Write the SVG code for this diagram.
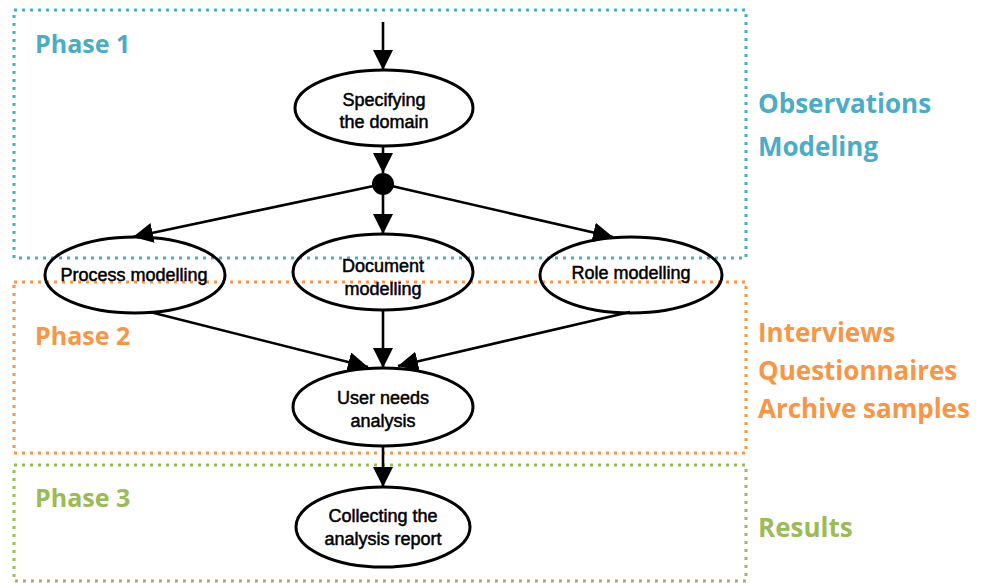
<svg xmlns="http://www.w3.org/2000/svg" width="987" height="583" viewBox="0 0 987 583">
  <style>
    .frame { fill: none; stroke-width: 3; stroke-dasharray: 3 5; }
    .blue { stroke: #4BACC6; }
    .orange { stroke: #F79646; }
    .green { stroke: #9BBB59; }
    .phase { font-family: "Open Sans", "Liberation Sans", sans-serif; font-weight: bold; font-size: 25px; }
    .side { font-size: 26px; }
    .tb { fill: #4BACC6; }
    .to { fill: #F79646; }
    .tg { fill: #9BBB59; }
    .node ellipse { fill: none; stroke: #000; stroke-width: 3; }
    .node text { font-family: "Liberation Sans", Arial, sans-serif; font-size: 18px; fill: #000; stroke: #000; stroke-width: 0.5; text-anchor: middle; }
    .edge { fill: none; stroke: #000; stroke-width: 2.6; marker-end: url(#head); }
  </style>
  <defs>
    <marker id="head" markerUnits="userSpaceOnUse" markerWidth="22" markerHeight="20" refX="20" refY="10" orient="auto">
      <path d="M0,0 L20,10 L0,20 Z" fill="#000"/>
    </marker>
  </defs>

  <rect width="987" height="583" fill="#fff"/>

  <!-- phase frames -->
  <g id="phase-frames">
    <rect class="frame blue" x="14" y="10" width="732" height="248"/>
    <rect class="frame orange" x="14" y="282" width="732" height="171"/>
    <rect class="frame green" x="14" y="465" width="732" height="116"/>
  </g>

  <!-- phase titles and side notes -->
  <g id="labels">
    <text class="phase tb" x="35" y="53">Phase 1</text>
    <text class="phase to" x="35" y="345">Phase 2</text>
    <text class="phase tg" x="35" y="507">Phase 3</text>
    <text class="phase side tb" x="758" y="113">Observations</text>
    <text class="phase side tb" x="758" y="156">Modeling</text>
    <text class="phase side to" x="758" y="342">Interviews</text>
    <text class="phase side to" x="758" y="380">Questionnaires</text>
    <text class="phase side to" x="758" y="418">Archive samples</text>
    <text class="phase side tg" x="758" y="537">Results</text>
  </g>

  <!-- connectors -->
  <g id="connectors">
    <line class="edge" x1="383" y1="22" x2="383" y2="70"/>
    <line class="edge" x1="383" y1="146" x2="383" y2="173"/>
    <line class="edge" x1="383" y1="184" x2="133" y2="237"/>
    <line class="edge" x1="383" y1="184" x2="383" y2="234"/>
    <line class="edge" x1="383" y1="184" x2="613" y2="237"/>
    <line class="edge" x1="150" y1="312" x2="368" y2="367"/>
    <line class="edge" x1="383" y1="310" x2="383" y2="368"/>
    <line class="edge" x1="630" y1="312" x2="398" y2="366"/>
    <line class="edge" x1="383" y1="447" x2="383" y2="487"/>
    <circle cx="383" cy="184" r="11" fill="#000"/>
  </g>

  <g id="specifying-domain" class="node">
    <ellipse cx="384" cy="108" rx="89" ry="38"/>
    <text x="384" y="106">Specifying</text>
    <text x="384" y="128">the domain</text>
  </g>

  <g id="process-modelling" class="node">
    <ellipse cx="135" cy="275" rx="90" ry="38"/>
    <text x="134" y="281">Process modelling</text>
  </g>

  <g id="document-modelling" class="node">
    <ellipse cx="383" cy="272" rx="90" ry="38"/>
    <text x="383" y="272">Document</text>
    <text x="383" y="295">modelling</text>
  </g>

  <g id="role-modelling" class="node">
    <ellipse cx="631" cy="275" rx="91" ry="38"/>
    <text x="631" y="279">Role modelling</text>
  </g>

  <g id="user-needs" class="node">
    <ellipse cx="383" cy="407" rx="90" ry="39"/>
    <text x="383" y="404">User needs</text>
    <text x="383" y="427">analysis</text>
  </g>

  <g id="analysis-report" class="node">
    <ellipse cx="383" cy="527" rx="87" ry="40"/>
    <text x="383" y="522">Collecting the</text>
    <text x="383" y="545">analysis report</text>
  </g>
</svg>
